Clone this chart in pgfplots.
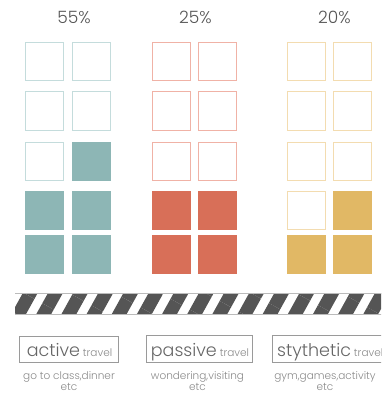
\documentclass[border=0pt]{standalone}
\usepackage{pgfplots}
\pgfplotsset{compat=1.18}
\usepackage{fontspec}
\setmainfont{Poppins}[UprightFont=* Light]
\usetikzlibrary{patterns.meta}

\definecolor{tealfill}{HTML}{8DB6B5}
\definecolor{tealline}{HTML}{C4DCDC}
\definecolor{redfill}{HTML}{D86F58}
\definecolor{redline}{HTML}{F0B2A6}
\definecolor{yelfill}{HTML}{E1B865}
\definecolor{yelline}{HTML}{F3DCB0}
\definecolor{stripe}{HTML}{555555}
\definecolor{barline}{HTML}{BBBBBB}
\definecolor{boxline}{HTML}{9A9A9A}
\definecolor{pcttext}{HTML}{555555}
\definecolor{lbltext}{HTML}{666666}
\definecolor{desctext}{HTML}{8A8A8A}

\begin{document}
\begin{tikzpicture}
\useasboundingbox (0,0) rectangle (381pt,393pt);
\begin{axis}[
  at={(0,0)}, anchor=south west,
  scale only axis, width=381pt, height=393pt,
  xmin=0, xmax=381, ymin=0, ymax=393,
  y dir=reverse, hide axis, clip=true,
  empty/.style={only marks, mark=square, mark size=19pt,
    color=#1, mark options={solid, draw=#1, line width=1pt}},
  full/.style={only marks, mark=square*, mark size=19pt,
    color=#1, mark options={solid, fill=#1, draw=#1, line width=0.1pt}},
]

% active travel: 5 of 10 cells filled
\addplot[empty=tealline] coordinates {
  (44.5,61.5) (91,61.5) (44.5,111) (91,111) (44.5,161)};
\addplot[full=tealfill] coordinates {
  (91,161) (44.5,210.5) (91,210.5) (44.5,254.5) (91,254.5)};

% passive travel: 4 of 10 cells filled
\addplot[empty=redline] coordinates {
  (171.5,61.5) (217.5,61.5) (171.5,111) (217.5,111) (171.5,161) (217.5,161)};
\addplot[full=redfill] coordinates {
  (171.5,210.5) (217.5,210.5) (171.5,254.5) (217.5,254.5)};

% stythetic travel: 3 of 10 cells filled
\addplot[empty=yelline] coordinates {
  (306,61.5) (352.5,61.5) (306,111) (352.5,111) (306,161) (352.5,161) (306,210.5)};
\addplot[full=yelfill] coordinates {
  (352.5,210.5) (306,254.5) (352.5,254.5)};

% striped divider
\addplot[draw=none, pattern={Lines[angle=61, distance=22pt, line width=13pt]},
  pattern color=stripe] coordinates {
  (15,293.5) (395,293.5) (395,314.5) (15,314.5)} -- cycle;
\addplot[draw=barline, line width=0.8pt] coordinates {(15,293.3) (395,293.3)};
\addplot[draw=barline, line width=0.8pt] coordinates {(15,314.7) (395,314.7)};

% percentages
\node[anchor=base, inner sep=0pt, text=pcttext, font=\fontsize{17}{20}\selectfont]
  at (axis cs:74,24) {55\%};
\node[anchor=base, inner sep=0pt, text=pcttext, font=\fontsize{17}{20}\selectfont]
  at (axis cs:195.5,24) {25\%};
\node[anchor=base, inner sep=0pt, text=pcttext, font=\fontsize{17}{20}\selectfont]
  at (axis cs:334.5,24) {20\%};

% category boxes
\node[draw=boxline, line width=0.8pt, minimum width=99pt, minimum height=26pt, inner sep=0pt]
  at (axis cs:68.5,349) {};
\node[draw=boxline, line width=0.8pt, minimum width=106pt, minimum height=27pt, inner sep=0pt]
  at (axis cs:199,348.5) {};
\node[draw=boxline, line width=0.8pt, minimum width=116pt, minimum height=27pt, inner sep=0pt]
  at (axis cs:330,348.5) {};

\node[anchor=base, inner sep=0pt, text=lbltext] at (axis cs:69.5,356)
  {\fontsize{17.5}{18}\selectfont active\,{\fontsize{10.5}{12}\selectfont\color{desctext}travel}};
\node[anchor=base, inner sep=0pt, text=lbltext] at (axis cs:200,356)
  {\fontsize{17.5}{18}\selectfont passive\,{\fontsize{10.5}{12}\selectfont\color{desctext}travel}};
\node[anchor=base west, inner sep=0pt, text=lbltext] at (axis cs:277,356)
  {\fontsize{17.5}{18}\selectfont stythetic\,{\fontsize{10.5}{12}\selectfont\color{desctext}travel}};

% descriptions
\node[anchor=base, inner sep=0pt, text=desctext, font=\fontsize{10.5}{12}\selectfont]
  at (axis cs:69,379) {go to class,dinner};
\node[anchor=base, inner sep=0pt, text=desctext, font=\fontsize{10.5}{12}\selectfont]
  at (axis cs:69,390.5) {etc};
\node[anchor=base, inner sep=0pt, text=desctext, font=\fontsize{10.5}{12}\selectfont]
  at (axis cs:197.5,379) {wondering,visiting};
\node[anchor=base, inner sep=0pt, text=desctext, font=\fontsize{10.5}{12}\selectfont]
  at (axis cs:197.5,390.5) {etc};
\node[anchor=base, inner sep=0pt, text=desctext, font=\fontsize{10.5}{12}\selectfont]
  at (axis cs:325,379) {gym,games,activity};
\node[anchor=base, inner sep=0pt, text=desctext, font=\fontsize{10.5}{12}\selectfont]
  at (axis cs:325,390.5) {etc};

\end{axis}
\end{tikzpicture}
\end{document}
